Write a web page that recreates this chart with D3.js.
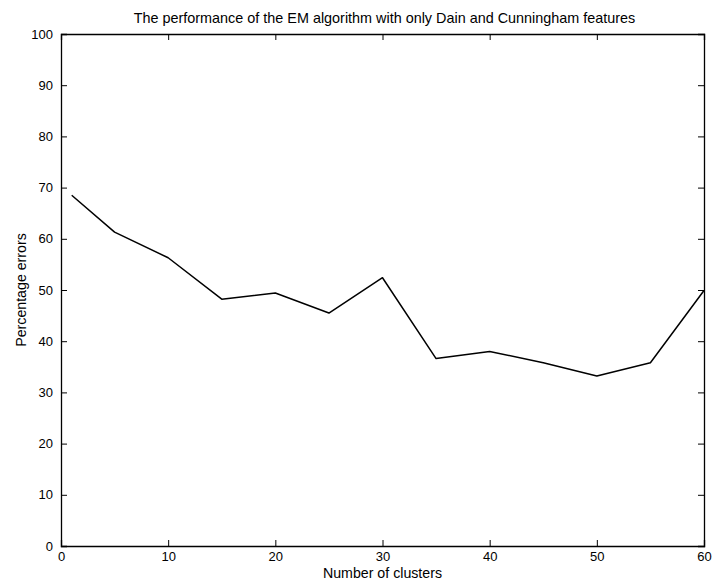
<!DOCTYPE html>
<html>
<head>
<meta charset="utf-8">
<script src="https://cdn.jsdelivr.net/npm/d3@7"></script>
<style>
  html, body { margin: 0; padding: 0; background: #fff; }
  svg { display: block; }
  text { font-family: "Liberation Sans", Arial, Helvetica, sans-serif; fill: #000; }
</style>
</head>
<body>
<svg id="chart" width="712" height="582"></svg>
<script>
// Number of clusters and the corresponding error rate (%)
const clusters = [1, 5, 10, 15, 20, 25, 30, 35, 40, 45, 50, 55, 60];
const errors = [68.5, 61.3, 56.3, 48.2, 49.4, 45.5, 52.4, 36.6, 38.0, 35.8, 33.2, 35.8, 49.9];
const xTicks = [0, 10, 20, 30, 40, 50, 60];
const yTicks = [0, 10, 20, 30, 40, 50, 60, 70, 80, 90, 100];

const titleText = "The performance of the EM algorithm with only Dain and Cunningham features";
const xLabel = "Number of clusters";
const yLabel = "Percentage errors";

const svg = d3.select("#chart");
const margin = { left: 61, right: 8, top: 34, bottom: 36 };
const W = 712, H = 582;
const x = d3.scaleLinear().domain([0, 60]).range([margin.left, W - margin.right]);
const y = d3.scaleLinear().domain([0, 100]).range([H - margin.bottom, margin.top]);

const tickLen = 6;
const tickFont = 13;
const labelFont = 14.2;

// Box axes with inward ticks on every side
svg.append("g")
  .attr("transform", `translate(0,${y(0)})`)
  .call(d3.axisBottom(x).tickValues(xTicks).tickSize(-tickLen).tickPadding(6))
  .call(g => g.selectAll("text").attr("font-size", tickFont));
svg.append("g")
  .attr("transform", `translate(0,${y(100)})`)
  .call(d3.axisTop(x).tickValues(xTicks).tickSize(-tickLen).tickFormat(""));
svg.append("g")
  .attr("transform", `translate(${x(0)},0)`)
  .call(d3.axisLeft(y).tickValues(yTicks).tickSize(-tickLen).tickPadding(8))
  .call(g => g.selectAll("text").attr("font-size", tickFont));
svg.append("g")
  .attr("transform", `translate(${x(60)},0)`)
  .call(d3.axisRight(y).tickValues(yTicks).tickSize(-tickLen).tickFormat(""));

svg.selectAll(".domain").attr("stroke", "#000").attr("stroke-width", 1.3);
svg.selectAll(".tick line").attr("stroke", "#000").attr("stroke-width", 1);
svg.selectAll(".tick text").attr("fill", "#000")
  .attr("font-family", "'Liberation Sans', Arial, Helvetica, sans-serif");

// Error curve
const line = d3.line().x((d, i) => x(clusters[i])).y(d => y(d));
svg.append("path")
  .datum(errors)
  .attr("fill", "none")
  .attr("stroke", "#000")
  .attr("stroke-width", 1.5)
  .attr("stroke-linejoin", "round")
  .attr("d", line);

// Title and axis labels
svg.append("text")
  .attr("x", (x(0) + x(60)) / 2 + 2)
  .attr("y", 23)
  .attr("text-anchor", "middle")
  .attr("font-size", 14.4)
  .text(titleText);

svg.append("text")
  .attr("x", (x(0) + x(60)) / 2)
  .attr("y", 578)
  .attr("text-anchor", "middle")
  .attr("font-size", labelFont)
  .text(xLabel);

svg.append("text")
  .attr("transform", `translate(21,${(y(0) + y(100)) / 2}) rotate(-90)`)
  .attr("text-anchor", "middle")
  .attr("dy", "0.35em")
  .attr("font-size", labelFont)
  .text(yLabel);
</script>
</body>
</html>
